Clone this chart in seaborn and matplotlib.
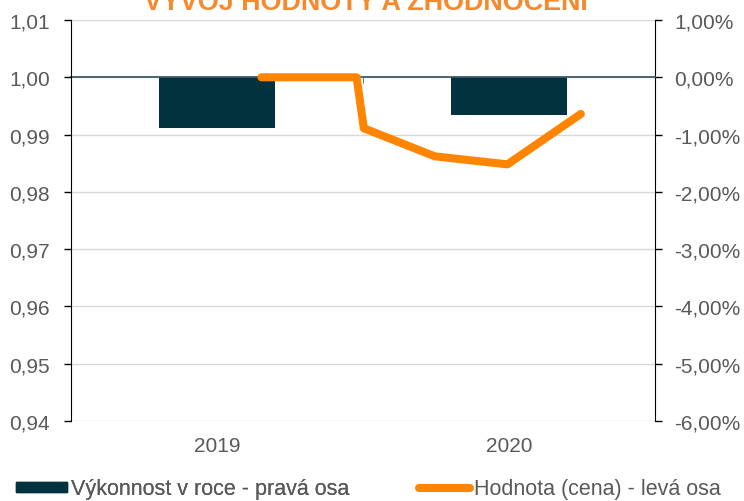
import matplotlib
matplotlib.use("Agg")
import matplotlib.pyplot as plt
from matplotlib.patches import Patch
from matplotlib.lines import Line2D
import numpy as np
import pandas as pd
import seaborn as sns

# yearly performance (right axis, %)
years = ["2019", "2020"]
performance = [-0.89, -0.65]

# price of the unit (left axis)
price_dates = ["2019-08-27", "2019-12-24", "2020-01-02", "2020-03-31", "2020-06-30", "2020-09-30"]
price_values = [1.0000, 1.0000, 0.9911, 0.9862, 0.9848, 0.9936]

left_ticks = [0.94, 0.95, 0.96, 0.97, 0.98, 0.99, 1.00, 1.01]
right_ticks = [-6, -5, -4, -3, -2, -1, 0, 1]

bar_color = "#03323f"
line_color = "#ff8500"
title_color = "#f7892c"
text_color = "#595959"
fs = 15

sns.set_style("white")
plt.rcParams["font.family"] = ["Liberation Sans", "DejaVu Sans"]

bars = pd.DataFrame({"year": years, "perf": performance})

# dates -> position on the category axis (each year spans one category)
d = pd.to_datetime(price_dates)
days = np.where(d.is_leap_year, 366, 365)
pos = (d.year - int(years[0])) + (d.dayofyear - 1) / days - 0.5
prices = pd.DataFrame({"pos": pos, "price": price_values})

fig = plt.figure(figsize=(7.44, 5.02), dpi=100)
ax = fig.add_axes([71 / 744, 1 - 422 / 502, 584 / 744, 401 / 502])
ax2 = ax.twinx()

sns.barplot(data=bars, x="year", y="perf", color=bar_color, saturation=1,
            width=0.4, linewidth=0, ax=ax)
sns.lineplot(data=prices, x="pos", y="price", color=line_color, linewidth=5.8,
             sort=False, ax=ax2)
ax2.lines[0].set_solid_capstyle("round")
ax2.lines[0].set_solid_joinstyle("round")

ax.set_xlim(-0.5, 1.5)
ax.set_ylim(-6, 1)
ax2.set_ylim(0.94, 1.01)

# right axis: performance
ax.yaxis.tick_right()
ax.set_yticks(right_ticks, [f"{v:.2f}%".replace(".", ",") for v in right_ticks])
ax.tick_params(axis="y", length=5, width=1, color="black", labelsize=fs,
               labelcolor=text_color, pad=9, right=True, left=False)
ax.grid(axis="y", color="#d9d9d9", linewidth=1)
ax.set_axisbelow(True)
ax.set_xlabel("")
ax.set_ylabel("")

# zero line as x axis, with the tick between the years
ax.spines["bottom"].set_position(("data", 0))
ax.spines["bottom"].set_color("#3e5a66")
ax.spines["bottom"].set_linewidth(1.3)
ax.set_xticks([0, 1])
ax.set_xticks([0.5], minor=True)
ax.tick_params(axis="x", which="major", length=0, labelbottom=False)
ax.tick_params(axis="x", which="minor", length=4, color="#3e5a66", direction="out", bottom=True)
for s in ["top", "left"]:
    ax.spines[s].set_visible(False)
ax.spines["right"].set_color("black")

# left axis: price
ax2.yaxis.tick_left()
ax2.set_yticks(left_ticks, [f"{v:.2f}".replace(".", ",") for v in left_ticks])
ax2.tick_params(axis="y", length=5, width=1, color="black", labelsize=fs,
                labelcolor=text_color, pad=10, left=True, right=False)
ax2.set_xlabel("")
ax2.set_ylabel("")
for s in ["top", "right", "bottom"]:
    ax2.spines[s].set_visible(False)
ax2.spines["left"].set_color("black")

# year labels at the bottom
ax2.xaxis.set_visible(True)
ax2.set_xticks([0, 1], years)
ax2.tick_params(axis="x", length=0, labelsize=fs, labelcolor=text_color, pad=11)

fig.text(366 / 744, 1 - 10 / 502, "VÝVOJ HODNOTY A ZHODNOCENÍ", ha="center", va="baseline",
         fontsize=19.4, fontweight="bold", color=title_color)

# legend, one entry each
leg_kw = dict(loc="center left", frameon=False, fontsize=15.5, labelcolor=text_color,
              borderpad=0, borderaxespad=0, handlelength=2.37, handleheight=0.35,
              handletextpad=0.2)
leg1 = fig.legend([Patch(color=bar_color)], ["Výkonnost v roce - pravá osa"],
                  bbox_to_anchor=(15.7 / 744, 1 - 490 / 502), **leg_kw)
fig.legend([Line2D([], [], color=line_color, linewidth=5.8, solid_capstyle="round")],
           ["Hodnota (cena) - levá osa"],
           bbox_to_anchor=(419 / 744, 1 - 490 / 502), **leg_kw)
fig.add_artist(leg1)

fig.savefig("out.png", dpi=100)
